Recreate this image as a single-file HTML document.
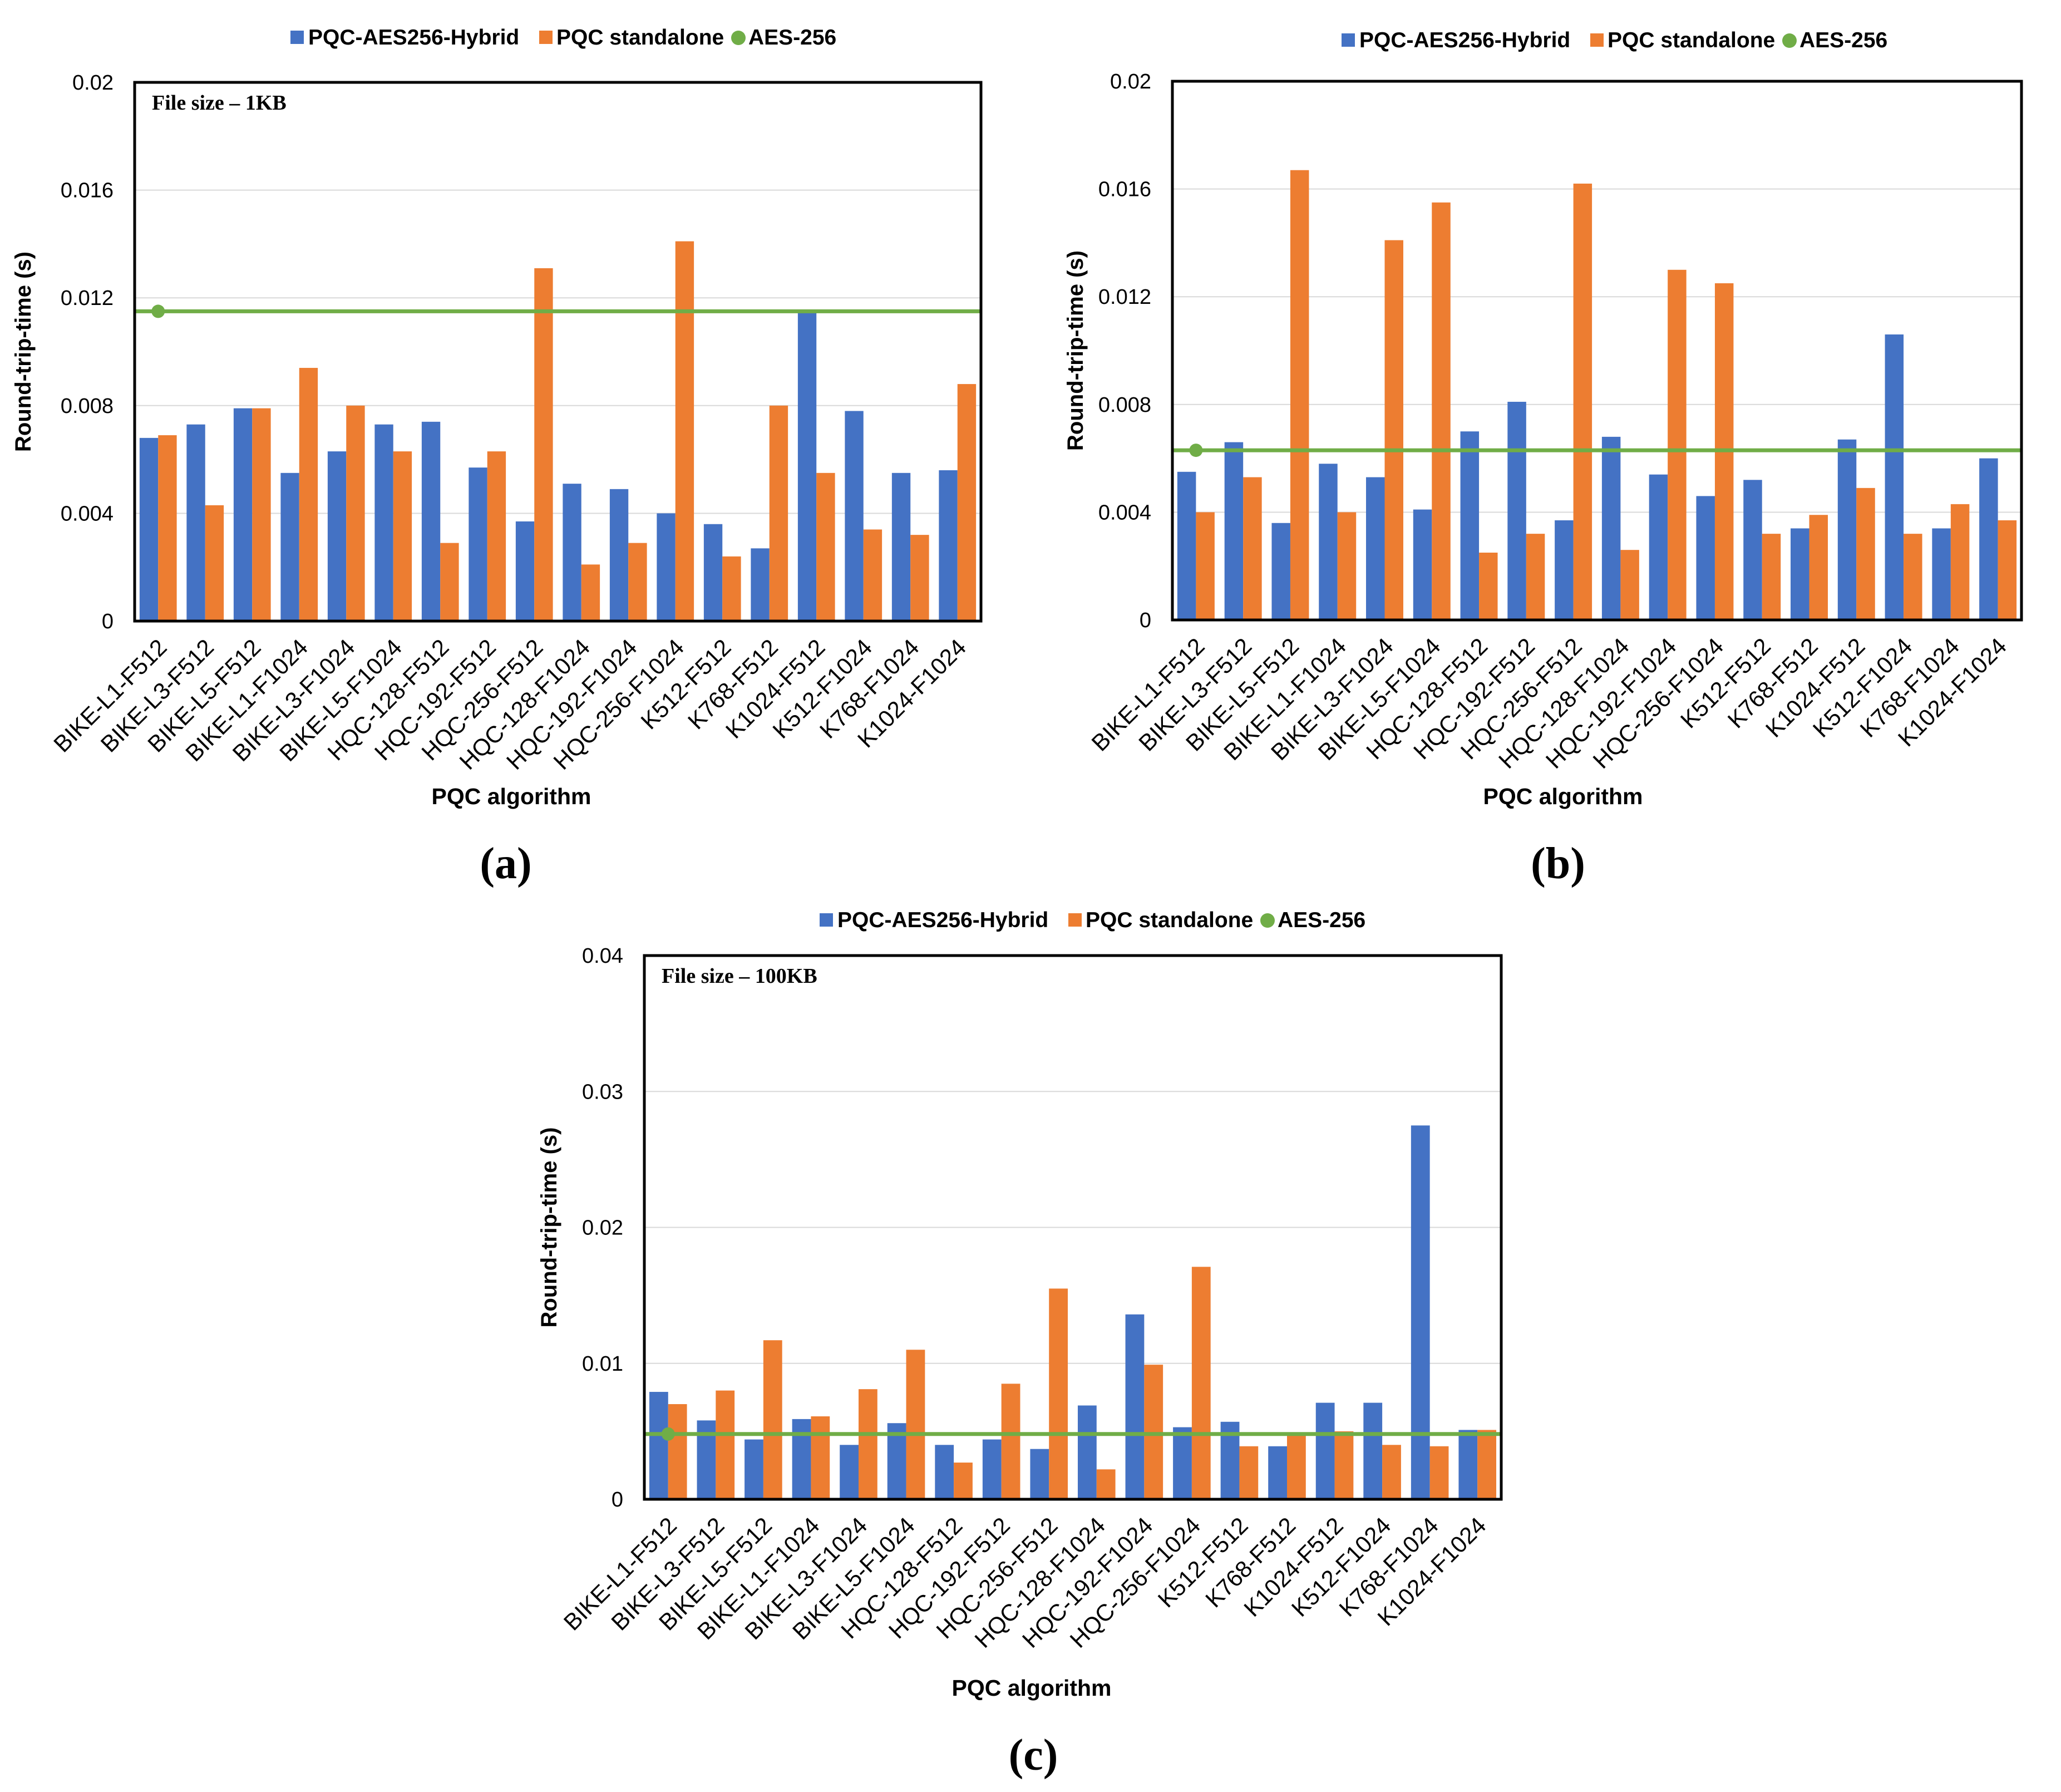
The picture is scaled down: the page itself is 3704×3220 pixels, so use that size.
<!DOCTYPE html>
<html><head><meta charset="utf-8"><style>
html,body{margin:0;padding:0;background:#fff;}
svg{display:block;}
</style></head><body>
<svg id="root" width="3704" height="3220" viewBox="0 0 3704 3220" xmlns="http://www.w3.org/2000/svg" font-family="Liberation Sans, sans-serif"></svg>
<script>
const categories = ["BIKE-L1-F512","BIKE-L3-F512","BIKE-L5-F512","BIKE-L1-F1024","BIKE-L3-F1024","BIKE-L5-F1024","HQC-128-F512","HQC-192-F512","HQC-256-F512","HQC-128-F1024","HQC-192-F1024","HQC-256-F1024","K512-F512","K768-F512","K1024-F512","K512-F1024","K768-F1024","K1024-F1024"];
const hybridA = [0.0068,0.0073,0.0079,0.0055,0.0063,0.0073,0.0074,0.0057,0.0037,0.0051,0.0049,0.0040,0.0036,0.0027,0.0115,0.0078,0.0055,0.0056];
const pqcA = [0.0069,0.0043,0.0079,0.0094,0.0080,0.0063,0.0029,0.0063,0.0131,0.0021,0.0029,0.0141,0.0024,0.0080,0.0055,0.0034,0.0032,0.0088];
const aesA = 0.0115;
const hybridB = [0.0055,0.0066,0.0036,0.0058,0.0053,0.0041,0.0070,0.0081,0.0037,0.0068,0.0054,0.0046,0.0052,0.0034,0.0067,0.0106,0.0034,0.0060];
const pqcB = [0.0040,0.0053,0.0167,0.0040,0.0141,0.0155,0.0025,0.0032,0.0162,0.0026,0.0130,0.0125,0.0032,0.0039,0.0049,0.0032,0.0043,0.0037];
const aesB = 0.0063;
const hybridC = [0.0079,0.0058,0.0044,0.0059,0.0040,0.0056,0.0040,0.0044,0.0037,0.0069,0.0136,0.0053,0.0057,0.0039,0.0071,0.0071,0.0275,0.0051];
const pqcC = [0.0070,0.0080,0.0117,0.0061,0.0081,0.0110,0.0027,0.0085,0.0155,0.0022,0.0099,0.0171,0.0039,0.0047,0.0050,0.0040,0.0039,0.0051];
const aesC = 0.0048;
const ticksAB = ["0","0.004","0.008","0.012","0.016","0.02"];
const ticksC = ["0","0.01","0.02","0.03","0.04"];

const NS="http://www.w3.org/2000/svg";
const root=document.getElementById('root');
function mk(tag,attrs,parent,text){const e=document.createElementNS(NS,tag);for(const k in attrs)e.setAttribute(k,attrs[k]);if(text!==undefined)e.textContent=text;(parent||root).appendChild(e);return e;}

function chart(cfg){
  const g=mk('g',{});
  
  
  const {L,R,T,B,max}=cfg;
  const yS=v=>B-(v/max)*(B-T);
  const n=categories.length, gw=(R-L)/n;
  const xC=i=>L+gw*(i+0.5);
  cfg.ticks.forEach((t,i)=>{
    const v=parseFloat(t), y=yS(v);
    if(v>0 && v<max){const gl=mk('line',{x1:L,x2:R,y1:y,y2:y,stroke:'#d9d9d9','stroke-width':2},g);
      }
    const tl=mk('text',{x:L-38,y:y+13,'text-anchor':'end','font-size':38,fill:'#000'},g,t);
    
  });
  const bw=gw*0.395;
  cfg.hyb.forEach((v,i)=>{
    const r=mk('rect',{x:xC(i)-bw,y:yS(v),width:bw,height:B-yS(v),fill:'#4472c4'},g);
    
  });
  cfg.pqc.forEach((v,i)=>{
    const r=mk('rect',{x:xC(i),y:yS(v),width:bw,height:B-yS(v),fill:'#ed7d31'},g);
    
  });
  const ay=yS(cfg.aes);
  const al=mk('line',{x1:L,x2:R,y1:ay,y2:ay,stroke:'#70ad47','stroke-width':7},g);
  
  const ad=mk('circle',{cx:xC(0),cy:ay,r:12,fill:'#70ad47'},g);
  
  const fr=mk('rect',{x:L,y:T,width:R-L,height:B-T,fill:'none',stroke:'#000','stroke-width':5},g);
  
  categories.forEach((c,i)=>{
    const x=xC(i)+18,y=B+50;
    const t=mk('text',{x:x,y:y,'text-anchor':'end','font-size':42,transform:`rotate(-45 ${x} ${y})`},g,c);
    
  });
  if(cfg.note){const t=mk('text',{x:L+31,y:T+49,'font-size':38,'font-weight':'bold','font-family':'Liberation Serif, serif'},g,cfg.note);
    }
  const yt=mk('text',{x:cfg.ytx,y:(T+B)/2,'text-anchor':'middle','font-size':40,'font-weight':'bold',transform:`rotate(-90 ${cfg.ytx} ${(T+B)/2})`},g,'Round-trip-time (s)');
  
  const xt=mk('text',{x:cfg.xtx,y:cfg.xty,'text-anchor':'middle','font-size':41,'font-weight':'bold'},g,'PQC algorithm');
  
  const pl=mk('text',{x:cfg.plx,y:cfg.ply,'text-anchor':'middle','font-size':80,'font-weight':'bold','font-family':'Liberation Serif, serif'},g,cfg.panel);
  
  const lg=mk('g',{},g);
  
  const lx=cfg.lx, ly=cfg.ly;
  const e1=mk('rect',{x:lx,y:ly-25,width:24,height:24,fill:'#4472c4'},lg);
  
  const t1=mk('text',{x:lx+32,y:ly,'font-size':39,'font-weight':'bold'},lg,'PQC-AES256-Hybrid');
  
  const e2=mk('rect',{x:lx+447,y:ly-25,width:24,height:24,fill:'#ed7d31'},lg);
  
  const t2=mk('text',{x:lx+478,y:ly,'font-size':39,'font-weight':'bold'},lg,'PQC standalone');
  
  const e3=mk('circle',{cx:lx+805,cy:ly-12,r:13,fill:'#70ad47'},lg);
  
  const t3=mk('text',{x:lx+823,y:ly,'font-size':39,'font-weight':'bold'},lg,'AES-256');
  
}

chart({name:'chart-a-1kb',L:242,R:1763,T:148,B:1116,max:0.02,ticks:ticksAB,hyb:hybridA,pqc:pqcA,aes:aesA,note:'File size – 1KB',ytx:55,xtx:919,xty:1445,plx:909,ply:1578,panel:'(a)',lx:522,ly:80});
chart({name:'chart-b',L:2107,R:3633,T:146,B:1114,max:0.02,ticks:ticksAB,hyb:hybridB,pqc:pqcB,aes:aesB,note:null,ytx:1946,xtx:2809,xty:1445,plx:2800,ply:1578,panel:'(b)',lx:2411,ly:85});
chart({name:'chart-c-100kb',L:1158,R:2698,T:1717,B:2694,max:0.04,ticks:ticksC,hyb:hybridC,pqc:pqcC,aes:aesC,note:'File size – 100KB',ytx:1000,xtx:1854,xty:3047,plx:1857,ply:3180,panel:'(c)',lx:1473,ly:1666});
</script>
</body></html>
